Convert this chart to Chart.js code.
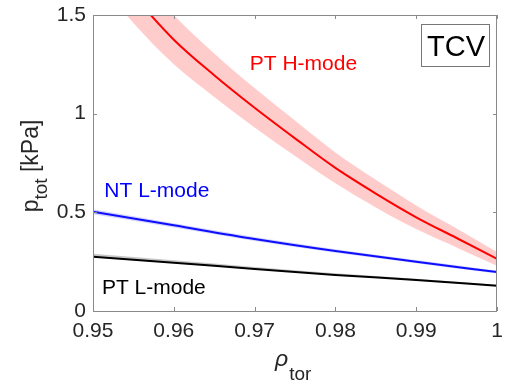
<!DOCTYPE html>
<html>
<head>
<meta charset="utf-8">
<script src="https://cdn.jsdelivr.net/npm/chart.js@4.4.1/dist/chart.umd.min.js"></script>
<style>
  html, body { margin: 0; padding: 0; background: #fff; }
  #wrap { width: 505px; height: 387px; position: relative; }
</style>
</head>
<body>
<div id="wrap"><canvas id="pChart"></canvas></div>
<script>
// ---- data ----
const rhoH    = [0.95, 0.955, 0.96, 0.965, 0.97, 0.975, 0.98, 0.985, 0.99, 0.995, 1.0];
const pHmode  = [1.85, 1.60, 1.375, 1.195, 1.03, 0.875, 0.725, 0.595, 0.475, 0.37, 0.264];
const pHerr   = [0.15, 0.14, 0.125, 0.11, 0.10, 0.09, 0.078, 0.07, 0.06, 0.048, 0.035];

const rhoL    = [0.95, 0.96, 0.97, 0.98, 0.99, 1.0];
const pNTL    = [0.503, 0.434, 0.365, 0.304, 0.25, 0.197];
const pNTerr  = [0.013, 0.011, 0.01, 0.009, 0.008, 0.007];
const pPTL    = [0.275, 0.245, 0.213, 0.183, 0.157, 0.128];
const pPTup   = [0.015, 0.012, 0.01, 0.008, 0.006, 0.005];
const pPTdown = [0.003, 0.003, 0.002, 0.002, 0.002, 0.002];

const xTicks = [0.95, 0.96, 0.97, 0.98, 0.99, 1];
const yTicks = [0, 0.5, 1, 1.5];

const seriesNames = ['PT H-mode', 'NT L-mode', 'PT L-mode'];

function pts(xs, ys, d, sign) {
  return xs.map((x, i) => ({ x: x, y: ys[i] + (d ? sign * d[i] : 0) }));
}

const FONT = '"Liberation Sans", Arial, Helvetica, sans-serif';
const AXIS = '#8a8a8a';

// box + inside ticks + texts, MATLAB style
const decor = {
  id: 'decor',
  afterDraw(chart) {
    const c = chart.ctx, a = chart.chartArea;
    const xs = chart.scales.x, ys = chart.scales.y;
    c.save();
    c.strokeStyle = AXIS;
    c.lineWidth = 1;
    c.strokeRect(a.left + 0.5, a.top + 0.5, a.right - a.left - 1, a.bottom - a.top);
    c.beginPath();
    xTicks.forEach(v => {
      const px = Math.round(xs.getPixelForValue(v)) + 0.5;
      c.moveTo(px, a.bottom); c.lineTo(px, a.bottom - 4);
      c.moveTo(px, a.top); c.lineTo(px, a.top + 4);
    });
    yTicks.forEach(v => {
      const py = Math.round(ys.getPixelForValue(v)) + 0.5;
      c.moveTo(a.left, py); c.lineTo(a.left + 4, py);
      c.moveTo(a.right, py); c.lineTo(a.right - 4, py);
    });
    c.stroke();

    // curve labels
    c.font = '21px ' + FONT;
    c.textBaseline = 'alphabetic';
    c.textAlign = 'left';
    const anchors = [[0.9694, 1.221, '#ff0000'], [0.9514, 0.578, '#0000ff'], [0.9511, 0.086, '#000000']];
    seriesNames.forEach((s, i) => {
      c.fillStyle = anchors[i][2];
      c.fillText(s, xs.getPixelForValue(anchors[i][0]), ys.getPixelForValue(anchors[i][1]));
    });

    // TCV box
    const bx = a.right - 76, by = a.top + 9, bw = 68, bh = 42;
    c.fillStyle = '#fff';
    c.fillRect(bx, by, bw, bh);
    c.strokeStyle = '#777';
    c.strokeRect(bx + 0.5, by + 0.5, bw, bh);
    c.fillStyle = '#000';
    c.font = '29px ' + FONT;
    c.textAlign = 'center';
    c.fillText('TCV', bx + bw / 2 + 1, by + bh / 2 + 11);

    // axis titles with subscripts
    c.fillStyle = '#262626';
    c.textAlign = 'left';
    // y: p_tot [kPa]
    c.save();
    c.translate(38, 166);
    c.rotate(-Math.PI / 2);
    c.font = '23px ' + FONT;
    const w1 = c.measureText('p').width;
    const w3 = c.measureText(' [kPa]').width;
    c.font = '19px ' + FONT;
    const w2 = c.measureText('tot').width;
    let x0 = -(w1 + w2 + w3) / 2;
    c.font = '23px ' + FONT;
    c.fillText('p', x0, 0);
    c.font = '19px ' + FONT;
    c.fillText('tot', x0 + w1, 9);
    c.font = '23px ' + FONT;
    c.fillText(' [kPa]', x0 + w1 + w2, 0);
    c.restore();
    // x: rho_tor
    c.font = 'italic 23px ' + FONT;
    c.fillText('ρ', 275, 366);
    const wr = c.measureText('ρ').width;
    c.font = '19px ' + FONT;
    c.fillText('tor', 275 + wr + 1, 380);
    c.restore();
  }
};

const band = (data, color, fill) => ({
  data: data, borderWidth: 0, pointRadius: 0, backgroundColor: color, fill: fill,
  cubicInterpolationMode: 'monotone'
});
const line = (data, color, w) => ({
  data: data, borderColor: color, borderWidth: w, pointRadius: 0, fill: false,
  cubicInterpolationMode: 'monotone'
});

new Chart(document.getElementById('pChart'), {
  type: 'line',
  data: {
    datasets: [
      band(pts(rhoL, pPTL, pPTup, 1), 'rgba(0,0,0,0.22)', '+1'),
      band(pts(rhoL, pPTL, pPTdown, -1), 'rgba(0,0,0,0)', false),
      band(pts(rhoL, pNTL, pNTerr, 1), 'rgba(60,60,255,0.22)', '+1'),
      band(pts(rhoL, pNTL, pNTerr, -1), 'rgba(0,0,0,0)', false),
      band(pts(rhoH, pHmode, pHerr, 1), 'rgba(255,0,0,0.2)', '+1'),
      band(pts(rhoH, pHmode, pHerr, -1), 'rgba(0,0,0,0)', false),
      line(pts(rhoL, pPTL), '#000000', 2),
      line(pts(rhoL, pNTL), '#0000ff', 2),
      line(pts(rhoH, pHmode), '#ff0000', 2)
    ]
  },
  options: {
    responsive: true,
    maintainAspectRatio: false,
    animation: false,
    layout: { padding: { left: 0, top: 15, right: 8, bottom: 0 } },
    plugins: { legend: { display: false }, tooltip: { enabled: false } },
    scales: {
      x: {
        type: 'linear', min: 0.95, max: 1,
        grid: { display: false, drawTicks: false },
        border: { display: false },
        afterBuildTicks: s => { s.ticks = xTicks.map(v => ({ value: v })); },
        afterFit: s => { s.height = 76; s.paddingLeft = 0; s.paddingRight = 0; },
        ticks: {
          padding: 8, color: '#262626', maxRotation: 0, autoSkip: false,
          font: { family: FONT, size: 21 },
          callback: v => (v === 1 ? '1' : v.toFixed(2))
        }
      },
      y: {
        min: 0, max: 1.5,
        grid: { display: false, drawTicks: false },
        border: { display: false },
        afterBuildTicks: s => { s.ticks = yTicks.map(v => ({ value: v })); },
        afterFit: s => { s.width = 93; s.paddingTop = 0; s.paddingBottom = 0; },
        ticks: {
          padding: 7, color: '#262626',
          font: { family: FONT, size: 21 },
          callback: v => String(v)
        }
      }
    }
  },
  plugins: [decor]
});
</script>
</body>
</html>
